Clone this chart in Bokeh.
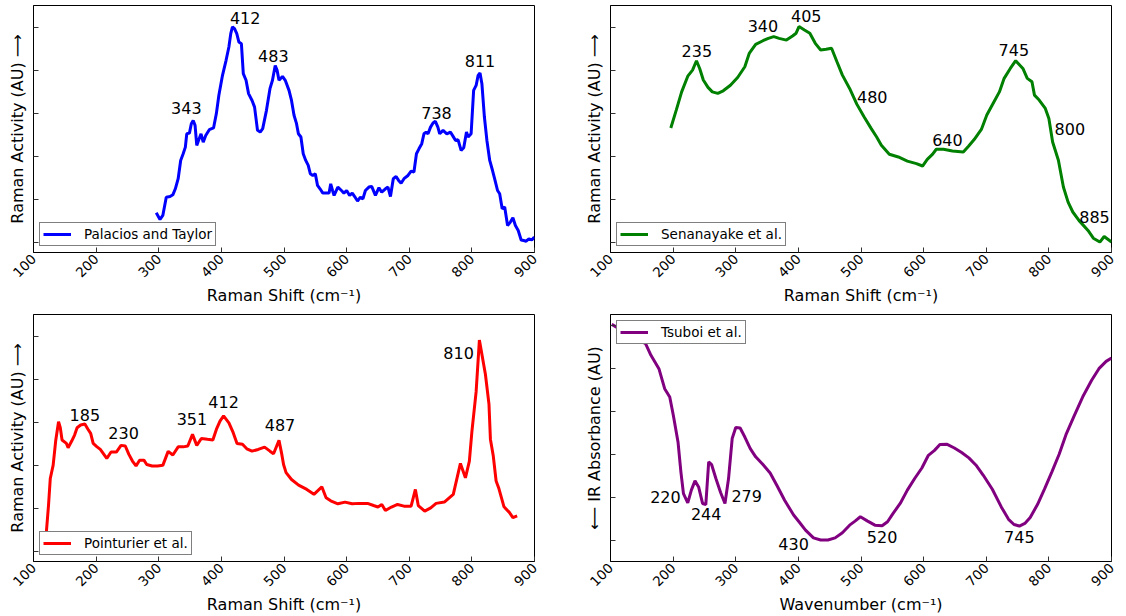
import math

from bokeh.core.properties import value
from bokeh.embed import file_html
from bokeh.layouts import gridplot
from bokeh.models import ColumnDataSource, CustomJSTickFormatter, FixedTicker, Range1d
from bokeh.plotting import figure
from bokeh.resources import INLINE

FONT = "DejaVu Sans"

# ---- Palacios and Taylor (Raman) ----
pt_shift = [296, 302, 306.5, 312, 318, 322.5, 326.5, 331, 335, 339, 342.5, 344.7, 349, 352, 355,
            358, 360.7, 363.5, 367.5, 371, 375, 380.7, 387.5, 392, 396, 401.8, 407.5, 412, 415,
            417.7, 421, 424.6, 428, 432, 435, 439.4, 443.4, 449, 453, 457.7, 462, 466, 472, 477.6,
            481.6, 486, 489, 492, 497.6, 502, 508, 512, 516, 520, 523, 527, 530.7, 534.7, 538.7,
            542, 546, 550, 553.5, 557.5, 562, 567, 572, 574.6, 577.5, 580, 586, 591.7, 595.7, 600,
            604.8, 609, 612.8, 617.4, 622, 626, 630, 635.6, 640, 646, 651.6, 656, 662, 666, 670,
            674.5, 679, 683, 687, 691.6, 698, 703, 707.5, 711.5, 715.5, 720, 723.5, 727, 730, 734,
            738, 741.7, 745.7, 748.6, 754, 760, 765.7, 770, 774, 778, 782.8, 787, 791.4, 794,
            798.8, 802.8, 806.8, 810, 813, 816, 820, 824, 828.5, 833, 837, 841, 844.4, 848.4,
            852.4, 857, 861.5, 865.5, 869.5, 874, 878.7, 882.7, 886.7, 891, 895.6, 899.8]
pt_act = [0.138, 0.107, 0.126, 0.211, 0.214, 0.222, 0.25, 0.297, 0.382, 0.413, 0.444, 0.506, 0.509,
          0.553, 0.568, 0.545, 0.452, 0.475, 0.506, 0.467, 0.498, 0.525, 0.533, 0.6, 0.685, 0.778,
          0.848, 0.91, 0.972, 1.003, 0.995, 0.972, 0.933, 0.925, 0.786, 0.755, 0.693, 0.661, 0.63,
          0.522, 0.514, 0.53, 0.615, 0.716, 0.755, 0.824, 0.801, 0.755, 0.773, 0.755, 0.708, 0.661,
          0.592, 0.553, 0.506, 0.491, 0.413, 0.382, 0.359, 0.32, 0.312, 0.32, 0.266, 0.25, 0.23,
          0.23, 0.23, 0.273, 0.242, 0.219, 0.258, 0.242, 0.23, 0.242, 0.219, 0.23, 0.214, 0.193,
          0.211, 0.203, 0.242, 0.258, 0.261, 0.219, 0.255, 0.234, 0.25, 0.258, 0.214, 0.297, 0.307,
          0.289, 0.276, 0.297, 0.312, 0.332, 0.328, 0.413, 0.436, 0.46, 0.506, 0.514, 0.506, 0.537,
          0.556, 0.564, 0.537, 0.506, 0.522, 0.506, 0.514, 0.494, 0.475, 0.478, 0.429, 0.441,
          0.514, 0.491, 0.506, 0.708, 0.731, 0.778, 0.789, 0.739, 0.584, 0.475, 0.382, 0.335,
          0.289, 0.242, 0.227, 0.157, 0.165, 0.079, 0.095, 0.115, 0.079, 0.056, 0.012, 0.009,
          0.006, 0.017, 0.012, 0.025]
pt_peaks = ["343", "412", "483", "738", "811"]
pt_peak_x = [344, 438, 483, 743.5, 813]
pt_peak_y = [0.627, 1.047, 0.868, 0.604, 0.845]

# ---- Senanayake et al. (Raman) ----
se_shift = [196.3, 205, 213.6, 223.4, 231, 237.3, 242.4, 248.2, 255.7, 262.6, 271.3, 280, 291.5,
            303, 314.5, 321.5, 331.8, 343.4, 352, 360.7, 369.3, 380.9, 390.7, 396.4, 401, 409.7,
            418.3, 427, 435.6, 444.3, 453, 461.6, 470.3, 481.8, 493.3, 504.8, 516.4, 525, 532.5,
            545.2, 559.6, 574, 588.5, 598.3, 605.8, 614.4, 620.2, 631.7, 646, 663.4, 672, 680.7,
            692.2, 700.9, 712.4, 721, 728.6, 738.4, 747, 758.5, 765.5, 773, 777, 784.5, 794.3, 800,
            806, 815.2, 823.2, 830.7, 838.2, 848, 862.5, 871, 881.4, 888.3, 900]
se_act = [0.533, 0.616, 0.701, 0.774, 0.802, 0.846, 0.81, 0.756, 0.722, 0.701, 0.694, 0.706,
          0.732, 0.768, 0.818, 0.88, 0.922, 0.939, 0.95, 0.958, 0.95, 0.942, 0.961, 0.974, 1.005,
          0.989, 0.974, 0.927, 0.896, 0.899, 0.904, 0.841, 0.779, 0.717, 0.644, 0.585, 0.53, 0.491,
          0.453, 0.411, 0.398, 0.379, 0.367, 0.356, 0.387, 0.411, 0.434, 0.434, 0.426, 0.421,
          0.449, 0.479, 0.526, 0.593, 0.655, 0.701, 0.764, 0.81, 0.846, 0.81, 0.764, 0.748, 0.686,
          0.663, 0.624, 0.577, 0.468, 0.383, 0.258, 0.188, 0.142, 0.103, 0.056, 0.02, 0.002,
          0.028, 0.002]
se_peaks = ["235", "340", "405", "480", "640", "745", "800", "885"]
se_peak_x = [237.8, 343.4, 412.6, 518, 638, 744, 833.5, 872.8]
se_peak_y = [0.893, 1.008, 1.054, 0.678, 0.476, 0.896, 0.526, 0.121]

# ---- Pointurier et al. (Raman) ----
po_shift = [118, 124, 126.8, 131.4, 135.4, 140, 142.8, 145.6, 152.5, 155.3, 161, 165.6, 169.6,
            175.3, 182, 186.7, 191.3, 195.3, 201, 206.7, 212.4, 217, 223.8, 232.3, 239.8, 246.6,
            252.3, 258, 263.7, 269.4, 276.3, 280.8, 289.4, 298, 306.5, 315, 322.5, 331, 339, 346.4,
            353.9, 360.7, 368, 377.8, 386.4, 392, 397.8, 403.5, 412, 418.9, 425, 433.7, 440.6, 449,
            458.8, 469, 477.6, 483.3, 492, 496.5, 499.3, 503.3, 512, 523.3, 536.4, 547.8, 560.4,
            567.2, 574.6, 586, 597.4, 608.8, 620.3, 633.4, 643, 650, 656.2, 661.9, 671.6, 681.3,
            691.6, 703, 709.8, 714.4, 724.7, 734.3, 742.9, 756, 770.3, 781.7, 789.7, 796, 800,
            806.8, 812, 821.6, 827.3, 829.6, 834.2, 838.7, 842.7, 851.3, 859.8, 865.5, 872.3]
po_act = [-0.002, 0.216, 0.34, 0.402, 0.514, 0.604, 0.576, 0.519, 0.503, 0.483, 0.514, 0.542,
          0.576, 0.589, 0.593, 0.57, 0.55, 0.503, 0.488, 0.475, 0.452, 0.433, 0.463, 0.463, 0.494,
          0.491, 0.452, 0.421, 0.398, 0.425, 0.425, 0.405, 0.398, 0.398, 0.401, 0.466, 0.449,
          0.487, 0.487, 0.491, 0.545, 0.494, 0.526, 0.522, 0.519, 0.568, 0.607, 0.631, 0.599,
          0.553, 0.503, 0.499, 0.478, 0.467, 0.475, 0.486, 0.467, 0.455, 0.517, 0.452, 0.405,
          0.367, 0.335, 0.309, 0.289, 0.266, 0.301, 0.25, 0.236, 0.222, 0.23, 0.222, 0.224, 0.224,
          0.214, 0.207, 0.219, 0.191, 0.207, 0.219, 0.211, 0.211, 0.289, 0.214, 0.188, 0.203,
          0.224, 0.23, 0.266, 0.41, 0.343, 0.421, 0.557, 0.744, 0.984, 0.825, 0.686, 0.523, 0.444,
          0.328, 0.297, 0.208, 0.182, 0.158, 0.166]
po_peaks = ["185", "230", "351", "412", "487", "810"]
po_peak_x = [182, 243.8, 353, 403.5, 493.6, 778.8]
po_peak_y = [0.636, 0.553, 0.615, 0.697, 0.587, 0.925]

# ---- Tsuboi et al. (IR absorbance, axis drawn inverted) ----
ts_wn = [102, 120, 140, 156, 164.6, 177.3, 186.5, 194.6, 200.3, 207.8, 212.4, 216.5, 223.4,
         229.1, 234.9, 240.7, 247, 252.2, 256.8, 261.4, 268.3, 275.8, 282.8, 288.5, 294.3, 300,
         307, 314.5, 323.2, 331.8, 343.4, 354.9, 366.4, 378, 392.4, 401, 411.4, 424.1, 435.6,
         447.2, 458.7, 470.3, 481.8, 490.5, 499, 510.6, 522.2, 533.7, 542.4, 551, 562.6, 574,
         585.7, 597.2, 607.6, 617.4, 626, 637.6, 649.1, 660.7, 672.2, 683.7, 695.3, 709.7, 724,
         735.6, 744.3, 752.9, 761.6, 770.2, 781.8, 793.3, 804.8, 816.4, 828, 839.5, 853.9, 868.3,
         879.9, 891.4, 900]
ts_abs = [-0.005, 0.025, 0.058, 0.085, 0.139, 0.201, 0.294, 0.333, 0.418, 0.542, 0.681, 0.782,
          0.825, 0.766, 0.723, 0.751, 0.828, 0.833, 0.635, 0.647, 0.712, 0.777, 0.828, 0.712,
          0.526, 0.475, 0.477, 0.519, 0.573, 0.611, 0.647, 0.686, 0.748, 0.813, 0.882, 0.913,
          0.952, 0.988, 0.998, 0.998, 0.988, 0.964, 0.929, 0.91, 0.89, 0.91, 0.929, 0.932, 0.913,
          0.875, 0.828, 0.766, 0.712, 0.663, 0.604, 0.581, 0.554, 0.553, 0.57, 0.591, 0.616, 0.65,
          0.697, 0.762, 0.844, 0.902, 0.926, 0.933, 0.921, 0.893, 0.833, 0.759, 0.681, 0.599,
          0.503, 0.426, 0.333, 0.255, 0.201, 0.167, 0.152]
ts_peaks = ["220", "244", "279", "430", "520", "745"]
ts_peak_x = [187.7, 252.8, 317.4, 392.4, 533.7, 752.8]
ts_peak_y = [0.797, 0.878, 0.794, 1.017, 0.986, 0.986]

x_ticks = [100, 200, 300, 400, 500, 600, 700, 800, 900]
y_ticks = [0, 0.2, 0.4, 0.6, 0.8, 1.0]

RAMAN_LABEL = "Raman Activity (AU) \u27f6"
IR_LABEL = "\u27f5 IR Absorbance (AU)"
SHIFT_LABEL = "Raman Shift (cm\u207b\u00b9)"
WN_LABEL = "Wavenumber (cm\u207b\u00b9)"


def panel(xs, ys, color, name, peaks, px, py, y_label, x_label, y_range,
          left, right, top, bottom, legend_loc):
    p = figure(width=563, height=308, output_backend="svg", toolbar_location=None,
               x_range=Range1d(100, 900), y_range=y_range,
               min_border_left=left, min_border_right=right,
               min_border_top=top, min_border_bottom=bottom)
    p.background_fill_color = "white"
    p.border_fill_color = "white"
    p.outline_line_color = "black"
    p.outline_line_width = 1
    p.grid.visible = False

    p.line(xs, ys, color=color, line_width=3, legend_label=name)

    src = ColumnDataSource(dict(x=px, y=py, t=peaks))
    p.text("x", "y", text="t", source=src, text_font=value(FONT), text_font_size="16px",
           text_align="center", text_baseline="middle", text_color="black")

    # inward ticks only, on the left and bottom of the frame
    for ax in (p.xaxis[0], p.yaxis[0]):
        ax.axis_line_color = "black"
        ax.major_tick_in = 5
        ax.major_tick_out = 0
        ax.minor_tick_line_color = None
        ax.major_tick_line_color = "#333333"
        ax.axis_label_text_font = FONT
        ax.axis_label_text_font_style = "normal"
        ax.axis_label_text_font_size = "16px"
        ax.axis_label_text_color = "black"
        ax.major_label_text_font = FONT
        ax.major_label_text_font_size = "13.5px"
        ax.major_label_text_color = "black"

    p.xaxis.ticker = FixedTicker(ticks=x_ticks)
    p.xaxis.major_label_orientation = math.pi / 4
    p.xaxis.major_label_standoff = 4
    p.xaxis.axis_label = x_label
    p.xaxis.axis_label_standoff = 1

    # the intensity scale is arbitrary: ticks without numbers
    p.yaxis.ticker = FixedTicker(ticks=y_ticks)
    p.yaxis.formatter = CustomJSTickFormatter(code="return ''")
    p.yaxis.major_label_standoff = 0
    p.yaxis.axis_label = y_label
    p.yaxis.axis_label_standoff = 7

    lg = p.legend[0]
    lg.location = legend_loc
    lg.margin = 6
    lg.padding = 3
    lg.spacing = 0
    lg.glyph_width = 28
    lg.glyph_height = 14
    lg.label_height = 14
    lg.label_standoff = 13
    lg.label_text_font = FONT
    lg.label_text_font_size = "13.5px"
    lg.label_text_color = "black"
    lg.border_line_color = "black"
    lg.border_line_width = 1
    lg.background_fill_color = "white"
    lg.background_fill_alpha = 1.0
    return p


raman_range = lambda: Range1d(-0.0465, 1.103)

p1 = panel(pt_shift, pt_act, "#0000ff", "Palacios and Taylor", pt_peaks, pt_peak_x, pt_peak_y,
           RAMAN_LABEL, SHIFT_LABEL, raman_range(), 33, 29, 5, 56, "bottom_left")
p2 = panel(se_shift, se_act, "#008000", "Senanayake et al.", se_peaks, se_peak_x, se_peak_y,
           RAMAN_LABEL, SHIFT_LABEL, raman_range(), 47, 15, 5, 56, "bottom_left")
p3 = panel(po_shift, po_act, "#ff0000", "Pointurier et al.", po_peaks, po_peak_x, po_peak_y,
           RAMAN_LABEL, SHIFT_LABEL, raman_range(), 33, 29, 6, 55, "bottom_left")
p4 = panel(ts_wn, ts_abs, "#800080", "Tsuboi et al.", ts_peaks, ts_peak_x, ts_peak_y,
           IR_LABEL, WN_LABEL, Range1d(1.098, -0.051), 47, 15, 6, 55, "top_left")

grid = gridplot([[p1, p2], [p3, p4]], toolbar_location=None)

open("out.html", "w").write(file_html(grid, INLINE))
